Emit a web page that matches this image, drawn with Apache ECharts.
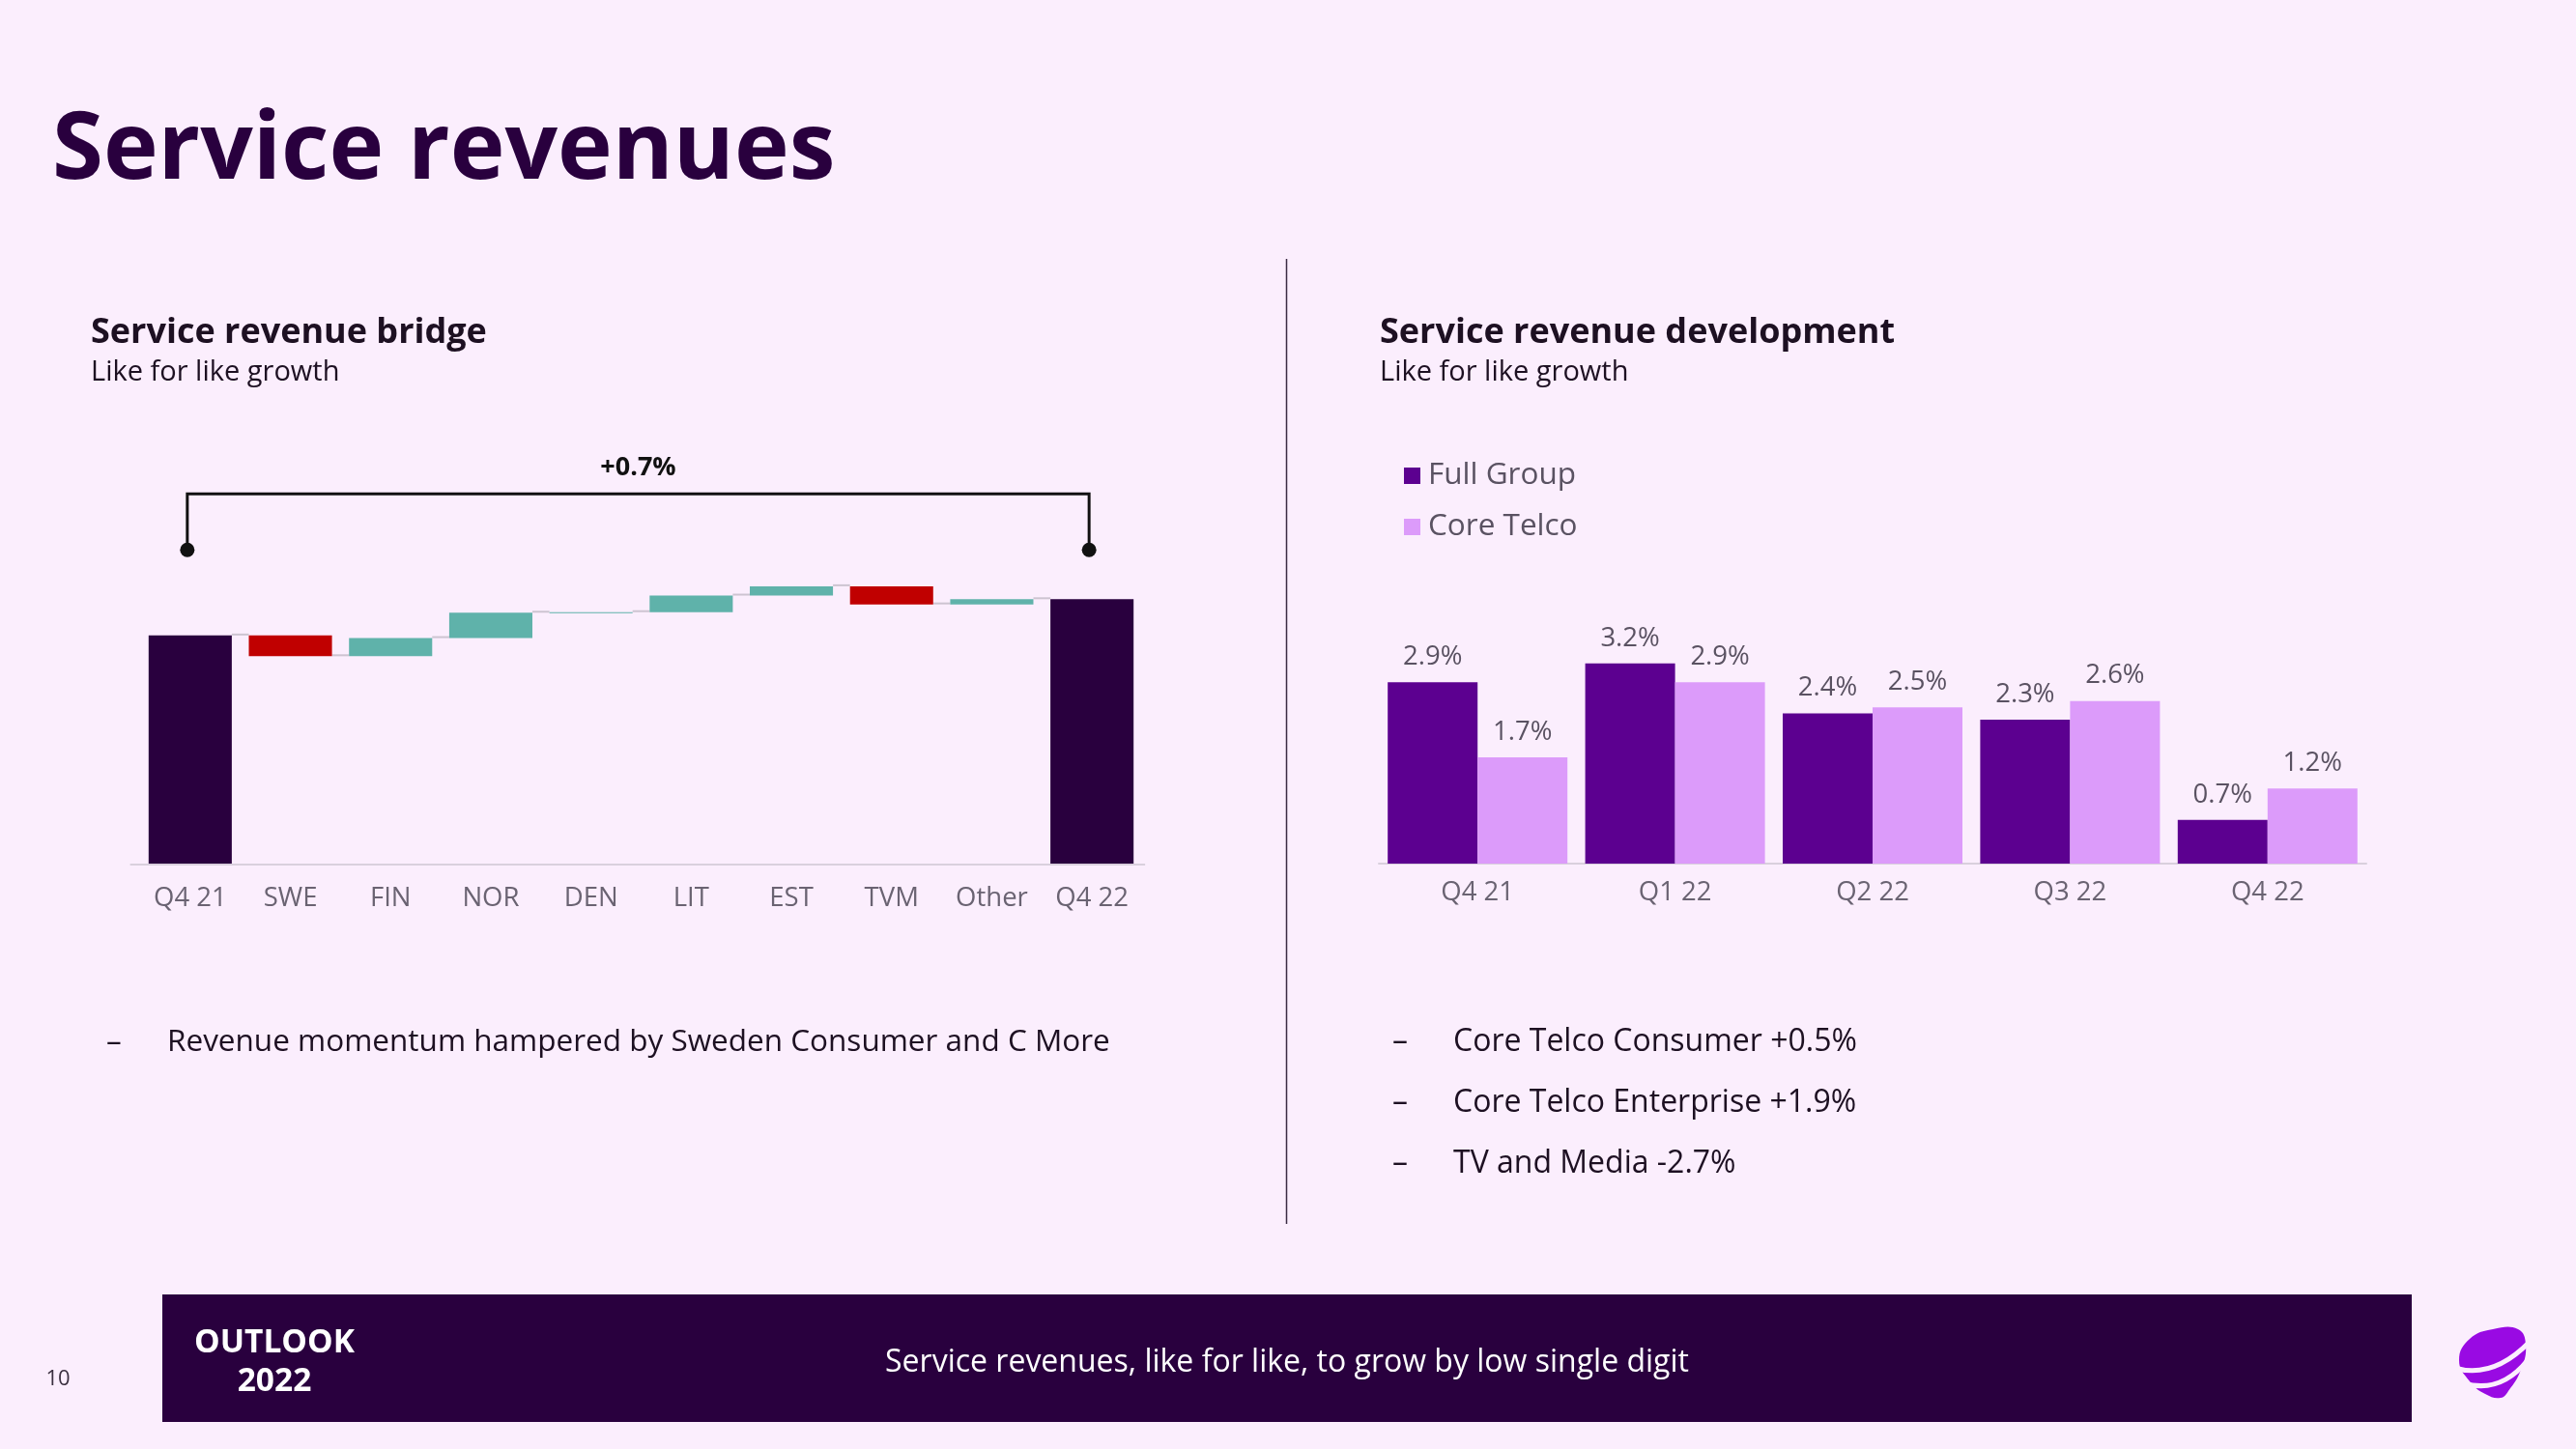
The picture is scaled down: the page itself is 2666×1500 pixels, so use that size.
<!DOCTYPE html>
<html>
<head>
<meta charset="utf-8">
<script src="https://cdn.jsdelivr.net/npm/echarts@6/dist/echarts.min.js"></script>
<style>
html,body{margin:0;padding:0;background:#fbeefd;}
#chart{width:2666px;height:1500px;}
</style>
</head>
<body>
<div id="chart"></div>
<script>
// ---------- data ----------
const bridgeCategories = ['Q4 21', 'SWE', 'FIN', 'NOR', 'DEN', 'LIT', 'EST', 'TVM', 'Other', 'Q4 22'];
const bridgeStart = 100;            // Q4 21 indexed level
const bridgeDeltas = [-0.40, 0.35, 0.49, 0.01, 0.32, 0.18, -0.35, 0.10]; // contributions, pp
const bridgeEnd = 100.7;            // Q4 22 indexed level
const bridgeAxisMin = 95.6;
const bridgeAxisMax = 101.6;

const devCategories = ['Q4 21', 'Q1 22', 'Q2 22', 'Q3 22', 'Q4 22'];
const fullGroup = [2.9, 3.2, 2.4, 2.3, 0.7];
const coreTelco = [1.7, 2.9, 2.5, 2.6, 1.2];

const leftBullets = ['Revenue momentum hampered by Sweden Consumer and C More'];
const rightBullets = ['Core Telco Consumer +0.5%', 'Core Telco Enterprise +1.9%', 'TV and Media -2.7%'];

// ---------- styles ----------
const FONT = '"Open Sans", Lato, sans-serif';
const C_DARK = '#29003e';
const C_POS = '#5fb2aa';
const C_NEG = '#c00000';
const C_FULL = '#5c0090';
const C_CORE = '#dc9bfa';
const C_AXIS = '#d9d0dd';
const C_LABEL = '#6a6372';
const C_TEXT = '#1d1022';
const kindColors = [C_DARK, C_POS, C_NEG];

// build waterfall rows [index, low, high, kind]
const wfData = [];
const connData = [];
let level = bridgeStart;
wfData.push([0, bridgeAxisMin, bridgeStart, 0]);
connData.push([0, level]);
bridgeDeltas.forEach((d, i) => {
  const next = level + d;
  wfData.push([i + 1, Math.min(level, next), Math.max(level, next), d >= 0 ? 1 : 2]);
  level = next;
  connData.push([i + 1, level]);
});
wfData.push([bridgeCategories.length - 1, bridgeAxisMin, bridgeEnd, 0]);

const BAR_RATIO = 0.83;
const chart = echarts.init(document.getElementById('chart'), null, {renderer: 'canvas'});

const option = {
  animation: false,
  backgroundColor: '#fbeefd',
  textStyle: {fontFamily: FONT},
  grid: [
    {left: 145, width: 1037, top: 572, height: 322},
    {left: 1427, width: 1022, top: 635, height: 259}
  ],
  xAxis: [
    {type: 'category', gridIndex: 0, data: bridgeCategories,
     axisLine: {show: false}, axisTick: {show: false},
     axisLabel: {color: C_LABEL, fontSize: 27.5, fontFamily: FONT, margin: 22}},
    {type: 'category', gridIndex: 1, data: devCategories,
     axisLine: {lineStyle: {color: C_AXIS, width: 2}}, axisTick: {show: false},
     axisLabel: {color: C_LABEL, fontSize: 27.5, fontFamily: FONT, margin: 16}}
  ],
  yAxis: [
    {type: 'value', gridIndex: 0, min: bridgeAxisMin, max: bridgeAxisMax, show: false},
    {type: 'value', gridIndex: 1, min: 0, max: 4, show: false}
  ],
  legend: {
    data: ['Full Group', 'Core Telco'],
    orient: 'vertical', left: 1448, top: 471,
    icon: 'rect', itemWidth: 17, itemHeight: 17, itemGap: 20,
    textStyle: {fontSize: 31.5, color: '#5a5262', fontFamily: FONT, lineHeight: 33, padding: [0, 0, 0, 3]}
  },
  series: [
    {
      type: 'custom', xAxisIndex: 0, yAxisIndex: 0, clip: false,
      data: connData, encode: {x: 0, y: 1},
      renderItem: function (params, api) {
        const i = api.value(0);
        if (i >= bridgeCategories.length - 1) return null;
        const p = api.coord([i, api.value(1)]);
        const band = api.size([1, 0])[0];
        const bw = band * BAR_RATIO;
        return {type: 'line', shape: {x1: p[0] + bw / 2, y1: p[1] - 1, x2: p[0] + band - bw / 2, y2: p[1] - 1},
                style: {stroke: '#cdc4d1', lineWidth: 2}};
      }
    },
    {
      type: 'custom', xAxisIndex: 0, yAxisIndex: 0, clip: false,
      data: wfData, encode: {x: 0, y: [1, 2]},
      renderItem: function (params, api) {
        const i = api.value(0);
        const lo = api.coord([i, api.value(1)]);
        const hi = api.coord([i, api.value(2)]);
        const bw = api.size([1, 0])[0] * BAR_RATIO;
        return {type: 'rect',
                shape: {x: hi[0] - bw / 2, y: hi[1], width: bw, height: Math.max(lo[1] - hi[1], 1)},
                style: {fill: kindColors[api.value(3)]}};
      }
    },
    {
      type: 'custom', xAxisIndex: 0, yAxisIndex: 0, clip: false,
      data: [[0, bridgeStart, bridgeCategories.length - 1, bridgeEnd]],
      encode: {x: [0, 2], y: [1, 3]},
      renderItem: function (params, api) {
        const a = api.coord([api.value(0), api.value(1)]);
        const b = api.coord([api.value(2), api.value(3)]);
        const base = api.coord([api.value(0), bridgeAxisMin]);
        const band = api.size([1, 0])[0];
        const x0 = a[0] - 3, x1 = b[0] - 3;
        const dotY = Math.min(a[1], b[1]) - 51;
        const lineY = dotY - 58;
        const diff = bridgeEnd - bridgeStart;
        const label = (diff >= 0 ? '+' : '') + diff.toFixed(1) + '%';
        const st = {stroke: '#111', lineWidth: 3, fill: null};
        return {type: 'group', children: [
          {type: 'line', shape: {x1: a[0] - band * 0.6, y1: base[1] + 1, x2: b[0] + band * 0.53, y2: base[1] + 1},
           style: {stroke: C_AXIS, lineWidth: 2}},
          {type: 'polyline', shape: {points: [[x0, dotY], [x0, lineY], [x1, lineY], [x1, dotY]]}, style: st},
          {type: 'circle', shape: {cx: x0, cy: dotY, r: 7.5}, style: {fill: '#111'}},
          {type: 'circle', shape: {cx: x1, cy: dotY, r: 7.5}, style: {fill: '#111'}},
          {type: 'text', style: {text: label, x: (x0 + x1) / 2, y: lineY - 27, align: 'center', verticalAlign: 'middle',
                                 font: 'bold 27px ' + FONT, fill: '#111'}}
        ]};
      }
    },
    {
      name: 'Full Group', type: 'bar', xAxisIndex: 1, yAxisIndex: 1, data: fullGroup,
      barGap: '0%', barCategoryGap: '9%',
      itemStyle: {color: C_FULL},
      label: {show: true, position: 'top', distance: 12, fontSize: 27.5, color: '#5a5262', fontFamily: FONT,
              formatter: p => p.value.toFixed(1) + '%'}
    },
    {
      name: 'Core Telco', type: 'bar', xAxisIndex: 1, yAxisIndex: 1, data: coreTelco,
      barGap: '0%', barCategoryGap: '9%',
      itemStyle: {color: C_CORE},
      label: {show: true, position: 'top', distance: 12, fontSize: 27.5, color: '#5a5262', fontFamily: FONT,
              formatter: p => p.value.toFixed(1) + '%'}
    }
  ],
  graphic: []
};

const g = [];
function txt(text, x, y, font, fill, align) {
  g.push({type: 'text', silent: true, style: {text: text, x: x, y: y, font: font, fill: fill,
          align: align || 'left', verticalAlign: 'middle'}});
}
// titles
txt('Service revenues', 54, 158, 'bold 96px ' + FONT, C_DARK);
txt('Service revenue bridge', 94, 345, 'bold 36px ' + FONT, C_TEXT);
txt('Like for like growth', 94, 386, '29px ' + FONT, C_TEXT);
txt('Service revenue development', 1428, 345, 'bold 36px ' + FONT, C_TEXT);
txt('Like for like growth', 1428, 386, '29px ' + FONT, C_TEXT);
// divider
g.push({type: 'line', silent: true, shape: {x1: 1331.5, y1: 268, x2: 1331.5, y2: 1267}, style: {stroke: '#3b2b44', lineWidth: 1.5}});
// bullets
leftBullets.forEach((t, i) => {
  txt('–', 110, 1079 + i * 63, '31.5px ' + FONT, C_TEXT);
  txt(t, 173, 1079 + i * 63, '31.5px ' + FONT, C_TEXT);
});
rightBullets.forEach((t, i) => {
  txt('–', 1441, 1079 + i * 63, '32px ' + FONT, C_TEXT);
  txt(t, 1504, 1079 + i * 63, '32px ' + FONT, C_TEXT);
});
// footer
g.push({type: 'rect', silent: true, shape: {x: 168, y: 1340, width: 2328, height: 132}, style: {fill: C_DARK}});
txt('OUTLOOK', 284, 1390, 'bold 33.5px ' + FONT, '#ffffff', 'center');
txt('2022', 284, 1430, 'bold 33.5px ' + FONT, '#ffffff', 'center');
txt('Service revenues, like for like, to grow by low single digit', 1332, 1411, '32px ' + FONT, '#ffffff', 'center');
txt('10', 60, 1428, '22px ' + FONT, '#3b3040', 'center');
// logo
g.push({type: 'polygon', silent: true, shape: {smooth: 0.45, points: [
  [2545, 1408], [2556, 1386], [2580, 1376], [2606, 1376], [2614, 1392], [2609, 1418], [2596, 1440], [2588, 1447], [2572, 1443], [2556, 1430]
]}, style: {fill: '#990ae3'}});
g.push({type: 'bezierCurve', silent: true, shape: {x1: 2540, y1: 1416, x2: 2618, y2: 1389, cpx1: 2580, cpy1: 1428}, style: {stroke: '#fbeefd', lineWidth: 5, fill: null}});
g.push({type: 'bezierCurve', silent: true, shape: {x1: 2550, y1: 1432, x2: 2616, y2: 1408, cpx1: 2588, cpy1: 1443}, style: {stroke: '#fbeefd', lineWidth: 5, fill: null}});
option.graphic = g;

chart.setOption(option);
</script>
</body>
</html>
